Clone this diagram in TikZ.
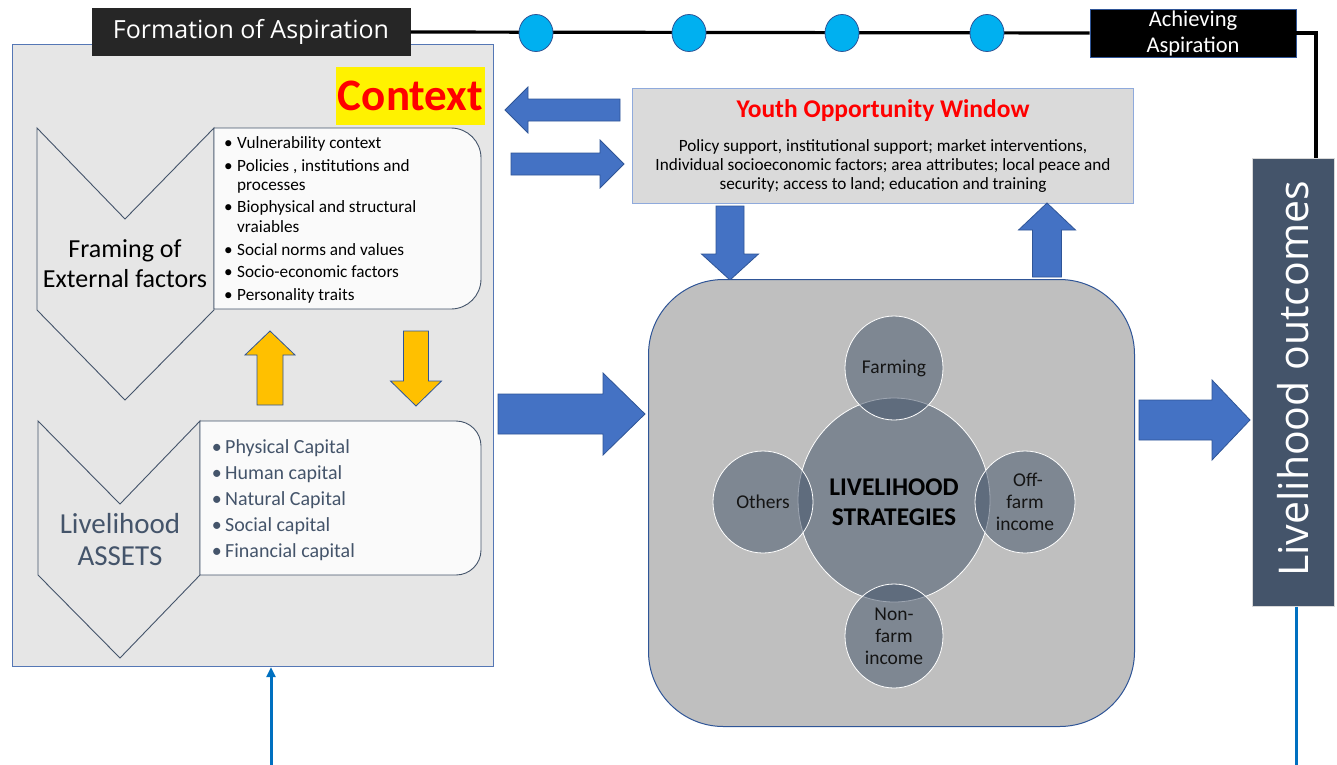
\documentclass[tikz,border=0pt]{standalone}
\usepackage{fontspec}
\setmainfont{Carlito}
\newfontfamily\opensans{Open Sans}
\usetikzlibrary{shapes.geometric,arrows.meta}

\definecolor{panelgray}{HTML}{E6E6E6}
\definecolor{panelblue}{HTML}{5577B5}
\definecolor{slate}{HTML}{44546A}
\definecolor{arrowblue}{HTML}{4472C4}
\definecolor{arrowedge}{HTML}{2F5597}
\definecolor{gold}{HTML}{FFC000}
\definecolor{dotblue}{HTML}{00B0F0}
\definecolor{linkblue}{HTML}{0070C0}
\definecolor{youthgray}{HTML}{DADADA}
\definecolor{youthedge}{HTML}{8FAADC}
\definecolor{stratgray}{HTML}{BFBFBF}
\definecolor{darkbox}{HTML}{262626}

\newcommand\fsz[2]{\fontsize{#1}{#2}\selectfont}

% horizontal block arrow: start x, neck x, tip x, centre y, half shaft, half head
\newcommand\harrow[7]{%
  \draw[#1] (#2,#5-#6) -- (#3,#5-#6) -- (#3,#5-#7) -- (#4,#5)
    -- (#3,#5+#7) -- (#3,#5+#6) -- (#2,#5+#6) -- cycle;}
% vertical block arrow: centre x, start y, neck y, tip y, half shaft, half head
\newcommand\varrow[7]{%
  \draw[#1] (#2-#6,#3) -- (#2-#6,#4) -- (#2-#7,#4) -- (#2,#5)
    -- (#2+#7,#4) -- (#2+#6,#4) -- (#2+#6,#3) -- cycle;}

\tikzset{
  bluearrow/.style={fill=arrowblue, draw=arrowedge, line width=0.8pt, line join=miter},
  goldarrow/.style={fill=gold, draw=arrowedge, line width=0.8pt, line join=miter},
  chevron/.style={fill=panelgray, draw=slate, line width=0.9pt, line join=miter},
  listbox/.style={fill=white!98!black, draw=slate, line width=0.9pt},
  dot/.style={ellipse, draw=arrowedge, fill=dotblue, line width=0.8pt,
    minimum width=34pt, minimum height=37pt, inner sep=0pt},
  bitem/.style={anchor=base west, inner sep=0pt, font=\fsz{17.2}{20}},
  aitem/.style={anchor=base west, inner sep=0pt, text=slate, font=\fsz{20}{23}},
  strat/.style={ellipse, draw=white, line width=0.8pt, fill=slate,
    fill opacity=0.52, text opacity=1, inner sep=0pt, align=center,
    text=black!92, font=\fsz{19.5}{22}},
}

\begin{document}
\begin{tikzpicture}[x=1pt,y=-1pt]
\useasboundingbox (0,0) rectangle (1337,764);
\fill[white] (0,0) rectangle (1337,764);

% ---------- context panel ----------
\node[draw=panelblue, fill=panelgray, line width=1.2pt, minimum width=481pt,
  minimum height=622pt, anchor=north west, inner sep=0pt] (ctxpanel) at (12,44) {};

% aspiration timeline
\node[fill=darkbox, text=white, minimum width=319pt, minimum height=48pt,
  inner sep=0pt, font=\opensans\fsz{25}{28}] (formation) at (251,32) {Formation of Aspiration};
\node[fill=black, draw=arrowedge, line width=0.8pt, text=white, minimum width=206pt,
  minimum height=48pt, inner sep=0pt, align=center, font=\fsz{22.5}{27}] (achieve) at (1193,33)
  {Achieving\\[-1pt]Aspiration};
\draw[line width=3.2pt] (formation.east) -- (achieve.west);
\node[dot] (d1) at (536,33) {};
\node[dot] (d2) at (689,33) {};
\node[dot] (d3) at (842,33) {};
\node[dot] (d4) at (987,33) {};

% Context label
\node[fill=yellow, text=red, minimum width=149pt, minimum height=58pt, inner sep=0pt,
  font=\bfseries\fsz{45}{48}] (context) at (410.5,96) {Context};

% framing chevron and list
\draw[chevron] (37,128) -- (125,219) -- (214,128) -- (214,310) -- (125,400) -- (37,310) -- cycle;
\draw[listbox] (214,128) -- (451,128) arc[start angle=-90, end angle=0, radius=30]
  -- (481,279) arc[start angle=0, end angle=90, radius=30] -- (214,309) -- cycle;
\node[align=center, inner sep=0pt, font=\fsz{26}{30}] (framing) at (125,264)
  {Framing of\\External factors};
\foreach \n/\yy/\t/\b in {v1/148/Vulnerability context/1, v2/171/{Policies , institutions and}/1,
  v3/190/processes/0, v4/212/Biophysical and structural/1, v5/232/vraiables/0,
  v6/255/Social norms and values/1, v7/277/Socio-economic factors/1, v8/300/Personality traits/1}{
  \node[bitem] (\n) at (237,\yy) {\t};
  \ifnum\b=1 \node[bitem, anchor=base east] at (233,\yy) {\textbullet}; \fi
}

% yellow exchange arrows
\varrow{goldarrow}{270}{405}{355}{331}{13}{25}
\varrow{goldarrow}{416}{331}{381}{406}{12.5}{25.5}

% assets chevron and list
\draw[chevron] (38,421) -- (120,504) -- (200,421) -- (200,575) -- (120,658) -- (38,575) -- cycle;
\draw[listbox] (200,421) -- (456,421) arc[start angle=-90, end angle=0, radius=25]
  -- (481,550) arc[start angle=0, end angle=90, radius=25] -- (200,575) -- cycle;
\node[align=center, inner sep=0pt, text=slate, font=\fsz{29}{32}] (assets) at (120,540)
  {Livelihood\\ASSETS};
\foreach \n/\yy/\t in {a1/453/Physical Capital, a2/479/Human capital, a3/505/Natural Capital,
  a4/531/Social capital, a5/557/Financial capital}{
  \node[aitem] (\n) at (225,\yy) {\t};
  \node[aitem, anchor=base east] at (222,\yy) {\textbullet};
}

% ---------- youth opportunity window ----------
\node[fill=youthgray, draw=youthedge, line width=1pt, minimum width=501pt,
  minimum height=115pt, anchor=north west, inner sep=0pt] (youth) at (632,88) {};
\node[text=red, font=\bfseries\fsz{25.5}{28}] (ytitle) at (883,111) {Youth Opportunity Window};
\node[align=center, inner sep=0pt, font=\fsz{17.2}{19}] (ybody) at (883,166)
  {Policy support, institutional support; market interventions,\\
   Individual socioeconomic factors; area attributes; local peace and\\
   security; access to land; education and training};

\harrow{bluearrow}{620}{528}{505}{110}{11}{23}
\harrow{bluearrow}{511}{600}{624}{164}{11}{24}
\varrow{bluearrow}{730}{206}{254}{280}{14}{28.5}
\varrow{bluearrow}{1047}{277}{230}{203}{14.5}{28.5}

% ---------- livelihood strategies ----------
\harrow{bluearrow}{498}{603}{645}{414}{20}{41}
\node[fill=stratgray, draw=arrowedge, line width=1pt, rounded corners=75pt,
  minimum width=486pt, minimum height=447pt, anchor=north west, inner sep=0pt]
  (strategies) at (648,279) {};
\node[strat, minimum width=192pt, minimum height=204pt] (core) at (894,500) {};
\node[strat] (farming) at (894,368) [minimum width=98pt, minimum height=104pt] {Farming};
\node[strat] (others) at (763,502) [minimum width=100pt, minimum height=102pt] {Others};
\node[strat] (offfarm) at (1025,502) [minimum width=100pt, minimum height=102pt]
  {\hspace*{6pt}Off-\\farm\\income};
\node[strat] (nonfarm) at (894,636) [minimum width=98pt, minimum height=104pt]
  {Non-\\farm\\income};
\node[align=center, inner sep=0pt, font=\bfseries\fsz{25.5}{30}] (corelabel) at (894,502)
  {LIVELIHOOD\\STRATEGIES};

\harrow{bluearrow}{1139}{1212}{1250}{420}{20}{40}

% ---------- livelihood outcomes ----------
\node[fill=slate, draw=black!15, line width=0.8pt, minimum width=82pt, minimum height=448pt,
  anchor=north west, inner sep=0pt] (outcome) at (1252,158) {};
\node[rotate=90, text=white, font=\opensans\fsz{41}{44}] (outlabel) at (1293,379)
  {Livelihood outcomes};

% link from achieved aspiration down to outcomes
\coordinate (bend) at (1316,33);
\draw[line width=3.2pt] (achieve.east) -- (bend) -- (bend |- outcome.north);

% feedback from outcomes back to the context panel
\coordinate (fbcorner) at (271,766);
\draw[linkblue, line width=3pt, -{Triangle[length=10pt,width=9pt]}]
  ([xshift=3pt]outcome.south) |- (fbcorner) -- (fbcorner |- ctxpanel.south);
\end{tikzpicture}
\end{document}
